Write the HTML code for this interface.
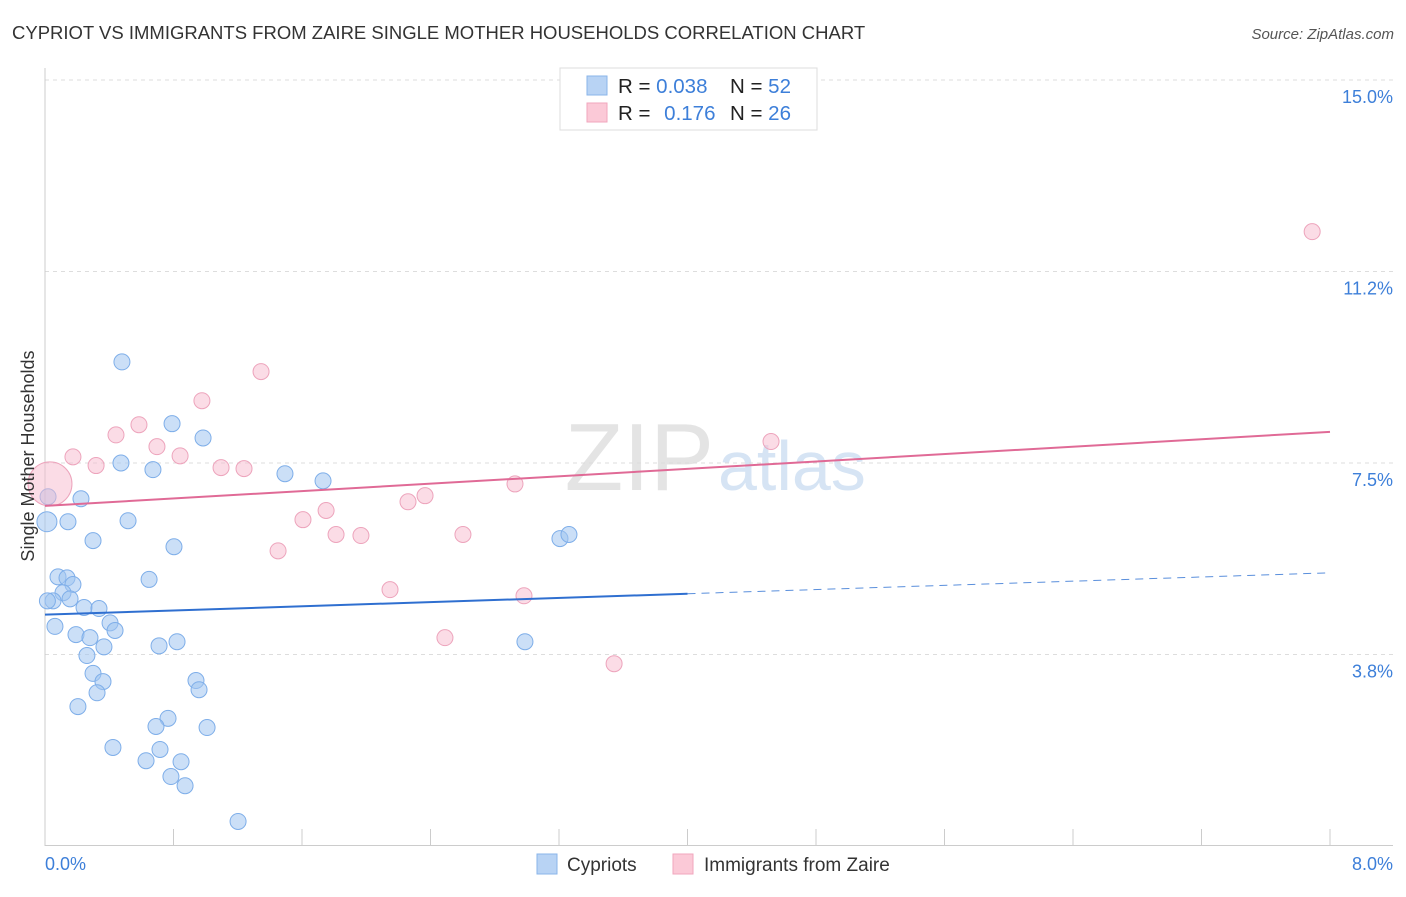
<!DOCTYPE html>
<html><head><meta charset="utf-8"><style>
body{margin:0;background:#fff;font-family:"Liberation Sans",sans-serif;}
svg text{font-family:"Liberation Sans",sans-serif;}
</style></head><body>
<svg id="chart" width="1406" height="892" xmlns="http://www.w3.org/2000/svg">
<text x="12" y="39" font-size="18.5" fill="#333">CYPRIOT VS IMMIGRANTS FROM ZAIRE SINGLE MOTHER HOUSEHOLDS CORRELATION CHART</text>
<text x="1394" y="39" font-size="15" fill="#555" font-style="italic" text-anchor="end">Source: ZipAtlas.com</text>
<text x="714" y="490" font-size="96" fill="#e4e4e4" text-anchor="end" font-family="Liberation Serif">ZIP</text>
<text x="718" y="490" font-size="70" fill="#d6e4f4">atlas</text>
<g id="grid"></g>
<g id="axes"></g>
<g id="pts"></g>
<g id="lines"></g>
<text transform="translate(34,456) rotate(-90)" font-size="18" fill="#333" text-anchor="middle">Single Mother Households</text>
<text x="45" y="870" font-size="18" fill="#3d7fd9">0.0%</text>
<text x="1393" y="870" font-size="18" fill="#3d7fd9" text-anchor="end">8.0%</text>
<g>
<rect x="560" y="68" width="257" height="62" fill="#fff" stroke="#ddd"/>
<rect x="587" y="76" width="20" height="19" fill="#b8d3f4" stroke="#8ab4ea"/>
<rect x="587" y="103" width="20" height="19" fill="#fbc9d7" stroke="#f0a6bd"/>
<text x="618" y="93" font-size="20.5" fill="#222">R = <tspan fill="#3d7fd9">0.038</tspan></text>
<text x="730" y="93" font-size="20.5" fill="#222">N = <tspan fill="#3d7fd9">52</tspan></text>
<text x="618" y="120" font-size="20.5" fill="#222">R = <tspan fill="#3d7fd9" dx="8">0.176</tspan></text>
<text x="730" y="120" font-size="20.5" fill="#222">N = <tspan fill="#3d7fd9">26</tspan></text>
</g>
<g>
<rect x="537" y="854" width="20" height="20" fill="#b8d3f4" stroke="#8ab4ea"/>
<text x="567" y="871" font-size="19" fill="#333">Cypriots</text>
<rect x="673" y="854" width="20" height="20" fill="#fbc9d7" stroke="#f0a6bd"/>
<text x="704" y="871" font-size="19" fill="#333">Immigrants from Zaire</text>
</g>
</svg>
<script>
const yTicks=[15.0,11.25,7.5,3.75];
const yTickLabels=["15.0%","11.2%","7.5%","3.8%"];
const xTicks=[0,0.8,1.6,2.4,3.2,4.0,4.8,5.6,6.4,7.2,8.0];
const cypX=[0.479,0.791,0.984,0.473,0.672,1.494,1.731,0.224,0.019,0.012,0.143,0.517,0.299,0.803,3.206,3.262,0.648,0.081,0.137,0.174,0.112,0.050,0.156,0.243,0.336,0.405,0.062,0.436,0.193,0.280,0.367,0.710,0.822,2.988,0.261,0.299,0.361,0.324,0.940,0.959,0.205,0.766,0.691,1.009,0.423,0.716,0.629,0.847,0.784,0.872,1.202,0.015];
const cypY=[9.48,8.27,7.99,7.50,7.37,7.29,7.15,6.80,6.84,6.35,6.35,6.37,5.98,5.86,6.02,6.10,5.22,5.27,5.25,5.12,4.96,4.80,4.84,4.67,4.65,4.37,4.30,4.22,4.14,4.08,3.90,3.92,4.00,4.00,3.73,3.38,3.22,3.00,3.24,3.06,2.73,2.50,2.34,2.32,1.93,1.89,1.67,1.65,1.36,1.18,0.48,4.80];
const zaiX=[7.889,1.345,0.977,0.585,0.442,0.697,0.841,0.174,0.318,1.096,1.239,4.520,2.926,2.366,2.260,1.750,1.606,1.812,1.967,2.602,1.451,2.148,2.982,2.490,3.543,0.031];
const zaiY=[12.03,9.29,8.72,8.25,8.05,7.82,7.64,7.62,7.45,7.41,7.39,7.92,7.09,6.86,6.74,6.57,6.39,6.10,6.08,6.10,5.78,5.02,4.90,4.08,3.57,7.09];
const cypTrend=[4.53,5.35];
const zaiTrend=[6.66,8.11];
const NS="http://www.w3.org/2000/svg";
const X0=45,X1=1330,XMAX=8,Y0=846,YMAX=15,YTOP=80;
function sx(v){return X0+(v/XMAX)*(X1-X0);}
function sy(v){return Y0-(v/YMAX)*(Y0-YTOP);}
function mk(tag,attrs,parent){const e=document.createElementNS(NS,tag);for(const k in attrs)e.setAttribute(k,attrs[k]);document.getElementById(parent).appendChild(e);return e;}
yTicks.forEach((t,i)=>{
 const l=mk('line',{x1:X0,x2:1393,y1:sy(t),y2:sy(t),stroke:'#ddd','stroke-dasharray':'4,4'},'grid');
 
 
 const tx=mk('text',{x:1393,y:sy(t)+23,'font-size':18,fill:'#3d7fd9','text-anchor':'end'},'grid');
 tx.textContent=yTickLabels[i];
 
 
});
let a=mk('line',{x1:X0,x2:X0,y1:68,y2:846,stroke:'#ccc'},'axes');


a=mk('line',{x1:X0,x2:1393,y1:845.5,y2:845.5,stroke:'#ccc'},'axes');


xTicks.forEach(t=>{
 const l=mk('line',{x1:sx(t),x2:sx(t),y1:829,y2:845,stroke:'#ccc'},'axes');
 
 
});
cypX.forEach((v,i)=>{
 const c=mk('circle',{cx:sx(v),cy:sy(cypY[i]),r:(i==9?10:8),fill:'rgba(160,196,240,0.55)',stroke:'#7eaee9','stroke-width':1},'pts');
 
 
});
zaiX.forEach((v,i)=>{
 const c=mk('circle',{cx:sx(v),cy:sy(zaiY[i]),r:(i==25?22:8),fill:'rgba(247,185,205,0.5)',stroke:'#eda4bc','stroke-width':1},'pts');
 
 
});
const ym=cypTrend[0]+(cypTrend[1]-cypTrend[0])*0.5;
let t=mk('line',{x1:sx(0),y1:sy(cypTrend[0]),x2:sx(4),y2:sy(ym),stroke:'#2f6fd0','stroke-width':2},'lines');


t=mk('line',{x1:sx(4),y1:sy(ym),x2:sx(8),y2:sy(cypTrend[1]),stroke:'#5a8fdc','stroke-width':1,'stroke-dasharray':'8,6'},'lines');


t=mk('line',{x1:sx(0),y1:sy(zaiTrend[0]),x2:sx(8),y2:sy(zaiTrend[1]),stroke:'#e06a96','stroke-width':2},'lines');


</script>
</body></html>
